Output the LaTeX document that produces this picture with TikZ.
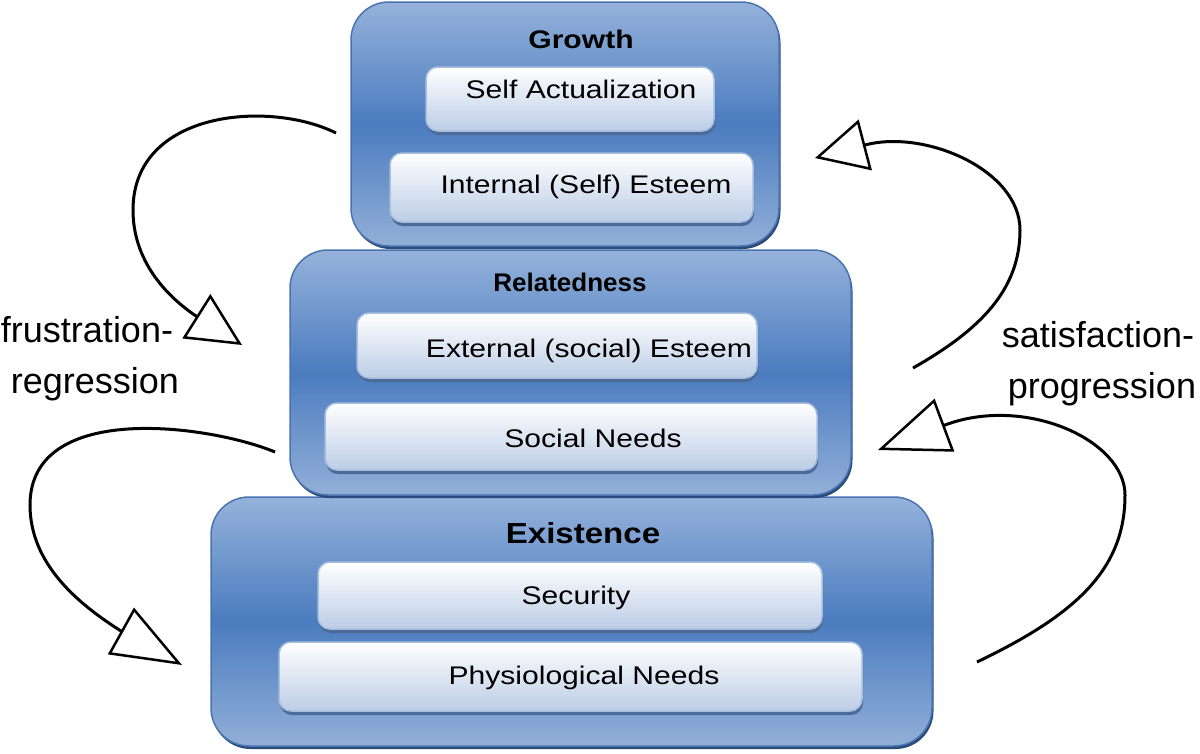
\documentclass[tikz,border=0pt]{standalone}
\usepackage{fontspec}
\usepackage{graphicx}
\setmainfont{Liberation Sans}
\usetikzlibrary{arrows.meta,shadows}
\definecolor{boxtop}{HTML}{95B2DB}
\definecolor{boxmid}{HTML}{4B7CBF}
\definecolor{boxbot}{HTML}{92AFD8}
\definecolor{boxedge}{HTML}{4A74B0}
\definecolor{boxshadow}{HTML}{2A4A7A}
\definecolor{intop}{HTML}{FFFFFF}
\definecolor{inbot}{HTML}{BCCDE6}
\definecolor{inedge}{HTML}{A8BEDF}
\definecolor{inshadow}{HTML}{4C6B99}
\newcommand\bxt[1]{\scalebox{1.18}[1]{#1}}
\tikzset{
  outerbox/.style={draw=boxedge, line width=1.5pt, rounded corners=38pt,
    top color=boxtop, bottom color=boxbot, middle color=boxmid,
    inner sep=0pt, outer sep=0pt,
    drop shadow={shadow xshift=1.5pt, shadow yshift=-3pt, fill=boxshadow, opacity=1}},
  innerbox/.style={draw=inedge, line width=1.5pt, rounded corners=12pt,
    top color=intop, bottom color=inbot,
    inner sep=0pt, outer sep=0pt,
    drop shadow={shadow xshift=1pt, shadow yshift=-4pt, fill=inshadow, opacity=1}},
  boxtext/.style={anchor=base, inner sep=0pt, font=\fontsize{25.5}{30}\selectfont},
  headtext/.style={anchor=base, inner sep=0pt, font=\fontsize{25.5}{30}\selectfont\bfseries},
  sidetext/.style={anchor=base, inner sep=0pt, font=\fontsize{36}{42}\selectfont},
  conn/.style={line width=3pt, black},
}
\begin{document}
\begin{tikzpicture}[x=1pt, y=-1pt]
\useasboundingbox (0,0) rectangle (1200,753);
% outer boxes (bottom first)
\node[outerbox, minimum width=721pt, minimum height=249pt] (exist) at (571.5,621.5) {};
\node[outerbox, minimum width=561pt, minimum height=245pt] (relat) at (570.5,372.5) {};
\node[outerbox, minimum width=428pt, minimum height=244pt] (growth) at (565,124) {};
% inner boxes
\node[innerbox, minimum width=288pt, minimum height=64pt] (sa) at (570,99) {};
\node[innerbox, minimum width=363pt, minimum height=69pt] (ie) at (571.5,187.5) {};
\node[innerbox, minimum width=400pt, minimum height=65pt] (ee) at (557,345.5) {};
\node[innerbox, minimum width=492pt, minimum height=67pt] (sn) at (571,436.5) {};
\node[innerbox, minimum width=504pt, minimum height=67pt] (sec) at (570,595.5) {};
\node[innerbox, minimum width=583pt, minimum height=69pt] (pn) at (570.5,676.5) {};
% texts
\node[headtext] (tgrowth) at (581,48) {\bxt{Growth}};
\node[boxtext] (tsa) at (581,98) {\bxt{Self Actualization}};
\node[boxtext] (tie) at (586,193) {\bxt{Internal (Self) Esteem}};
\node[headtext] (trelat) at (570,291) {\scalebox{1.02}[1]{Relatedness}};
\node[boxtext] (tee) at (589,357) {\bxt{External (social) Esteem}};
\node[boxtext] (tsn) at (593,447) {\bxt{Social Needs}};
\node[headtext, font=\fontsize{29}{34}\selectfont\bfseries] (texist) at (583,543) {\scalebox{1.14}[1]{Existence}};
\node[boxtext] (tsec) at (576,604) {\bxt{Security}};
\node[boxtext] (tpn) at (584,684) {\bxt{Physiological Needs}};
% side labels
\node[sidetext] (fr1) at (87,342) {frustration-};
\node[sidetext] (fr2) at (95,393) {regression};
\node[sidetext] (sp1) at (1098,347) {satisfaction-};
\node[sidetext] (sp2) at (1102,398) {progression};
% arrows
\coordinate (a1s) at (336,133); \coordinate (a1b) at (196,316); \coordinate (a1t) at (242,345);
\coordinate (a2s) at (275,452); \coordinate (a2b) at (121,631); \coordinate (a2t) at (182,665);
\coordinate (a3s) at (913,368); \coordinate (a3b) at (865,145); \coordinate (a3t) at (815,158);
\coordinate (a4s) at (977,662); \coordinate (a4b) at (945,425); \coordinate (a4t) at (878,450);
\draw[conn, -{Triangle[length=54pt,width=52pt,fill=white,line width=2.5pt]}]
  (a1s) .. controls (270,100) and (133,110) .. (133,210) .. controls (133,260) and (165,295) .. (a1b) -- (a1t);
\draw[conn, -{Triangle[length=70pt,width=53pt,fill=white,line width=2.5pt]}]
  (a2s) .. controls (210,425) and (30,400) .. (30,505) .. controls (30,565) and (80,605) .. (a2b) -- (a2t);
\draw[conn, -{Triangle[length=52pt,width=52pt,fill=white,line width=2.5pt]}]
  (a3s) .. controls (980,330) and (1020,290) .. (1020,230) .. controls (1020,170) and (925,129) .. (a3b) -- (a3t);
\draw[conn, -{Triangle[length=71pt,width=56pt,fill=white,line width=2.5pt]}]
  (a4s) .. controls (1075,615) and (1125,570) .. (1125,495) .. controls (1125,440) and (1025,395) .. (a4b) -- (a4t);
\end{tikzpicture}
\end{document}
